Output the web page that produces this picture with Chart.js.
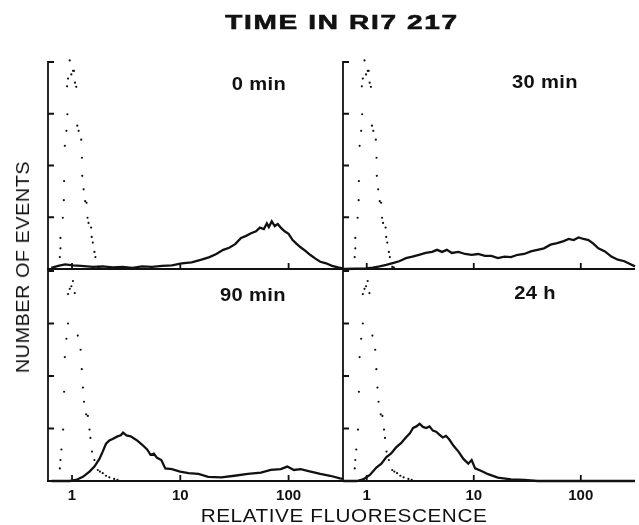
<!DOCTYPE html>
<html><head><meta charset="utf-8">
<script src="https://cdn.jsdelivr.net/npm/chart.js@4.4.1/dist/chart.umd.min.js"></script>
<style>
html,body{margin:0;padding:0;background:#fff;}
#wrap{position:relative;width:639px;height:525px;overflow:hidden;background:#fff;}
canvas{position:absolute;left:0;top:0;}
.t{position:absolute;white-space:nowrap;font-family:'Liberation Sans',Arial,sans-serif;color:#111;transform-origin:50% 50%;}
#title{left:342px;top:22px;font-size:20px;line-height:20px;font-weight:bold;letter-spacing:1.2px;transform:translate(-50%,-50%) scaleX(1.4);-webkit-text-stroke:0.6px #111;}
#xlab{left:344px;top:516px;font-size:18px;line-height:18px;letter-spacing:0.5px;transform:translate(-50%,-50%) scaleX(1.15);}
#ylab{left:23px;top:267px;font-size:18px;line-height:18px;letter-spacing:0.5px;transform:translate(-50%,-50%) rotate(-90deg) scaleX(1.1);}
.pl{font-size:18px;line-height:18px;font-weight:bold;letter-spacing:0.3px;transform:translate(-50%,-50%) scaleX(1.12);}
</style></head><body>
<div id="wrap">
<canvas id="c0" width="639" height="525"></canvas>
<canvas id="c1" width="639" height="525"></canvas>
<canvas id="c2" width="639" height="525"></canvas>
<canvas id="c3" width="639" height="525"></canvas>
<div class="t" id="title">TIME IN RI7 217</div>
<div class="t" id="ylab">NUMBER OF EVENTS</div>
<div class="t" id="xlab">RELATIVE FLUORESCENCE</div>
<div class="t pl" id="pl0" style="left:259px;top:84px;">0 min</div>
<div class="t pl" id="pl1" style="left:545px;top:82px;">30 min</div>
<div class="t pl" id="pl2" style="left:253px;top:295px;">90 min</div>
<div class="t pl" id="pl3" style="left:535px;top:293px;">24 h</div>
</div>
<script>
// ---- data ----
const xTickValues = [1, 10, 100];
const yTickValues = [100, 200, 300, 400];
const panelLabels = ['0 min', '30 min', '90 min', '24 h'];

// unstained control (dotted), upper panels
const ctrlTopX = [0.772,0.782,0.782,0.822,0.840,0.845,0.858,0.887,0.906,0.90,0.919,0.985,0.953,1.021,1.043,1.065,1.094,1.118,1.151,1.216,1.234,1.242,1.279,1.322,1.362,1.39,1.42,1.50,1.52,1.555,1.61,1.645,1.73,1.79];
const ctrlTopY = [23,40,60,99,133,170,238,267,299,353,368,376,403,383,383,360,352,277,267,250,215,180,154,131,128,99,89,80,62,51,33,23,4,3];
// unstained control (dotted), lower panels
const ctrlBotX = [1.02,0.986,0.953,1.06,0.919,0.919,0.887,1.13,1.20,0.858,1.23,0.845,1.26,1.29,1.35,0.828,1.40,1.45,1.48,0.798,1.53,0.782,1.61,0.772,1.73,1.81,1.92,2.06,2.21,2.45,2.63];
const ctrlBotY = [381,371,366,358,356,300,271,277,250,236,213,170,178,151,127,98,124,98,82,60,56,40,40,24,21,18,15,10,7,4,2];

// 0 min
const min0X = [0.643,0.745,0.863,1.02,1.21,1.56,1.92,2.37,2.92,3.61,4.45,5.49,6.78,8.36,10.3,12.7,15.7,18.6,21.5,24.9,28.3,32.1,36.4,40.5,45.0,50.0,54.3,59.1,63.0,65.7,69.9,74.5,79.4,84.6,91.9,100,109,118,129,143,159,177,196,222,252,286,318];
const min0Y = [2,6,9,7,6,4,5,3,4,2,5,4,6,7,11,13,18,23,29,37,41,48,60,64,69,73,80,77,88,81,92,83,87,80,73,68,56,49,42,35,27,20,14,11,6,3,1];
// 30 min
const min30X = [0.61,0.99,1.14,1.32,1.52,1.75,2.01,2.16,2.32,2.67,3.08,3.55,4.08,4.54,5.05,5.61,6.24,7.20,8.29,9.55,11.0,12.7,14.6,16.8,19.4,22.3,25.7,29.6,34.1,39.3,45.3,52.1,60.1,69.2,77.1,85.7,95.3,106,118,131,146,168,193,222,256,285,321];
const min30Y = [0,1,2.5,5,8,11.5,15,18,21,24,27.5,31,33,37,33,37,31,33,29,27.5,29,25.5,25.5,21,24,23,27.5,29,34,37,40,47,50,54,58,56,61,58,56,49,40,34,24,18,15,10,5];
// 90 min
const min90X = [0.647,0.953,1.09,1.26,1.45,1.61,1.79,1.92,2.06,2.21,2.37,2.63,2.82,2.96,3.18,3.48,3.74,4.01,4.45,4.94,5.30,5.69,6.10,6.68,7.27,8.36,9.96,11.9,14.7,18.1,23.9,31.7,42.0,55.5,68.5,84.6,97.3,112,129,153,196,242,298,318];
const min90Y = [0,0,2,8,18,27.5,42,56,71,77,80,85,87,92,87,85,81,77,69,60,50,52,44,40,24,22.5,18,15,13.5,8,7,10,13.5,16,21,22.5,27.5,21,22.5,19,13.5,10,5,4];
// 24 h
const h24X = [0.605,0.804,0.925,1.07,1.23,1.37,1.52,1.69,1.88,2.09,2.32,2.53,2.71,2.91,3.12,3.35,3.60,3.86,4.15,4.45,4.77,5.13,5.50,5.91,6.47,7.20,8.00,8.89,9.55,10.3,11.8,13.6,16.8,22.3,29.6,39.3,321];
const h24Y = [0,0,3,11.5,25.6,33,45,52.5,64,72,83,91,101,104,109,103,101,104,96,94,88.5,83,86,79,67,56,42,33,40,24,19,13,6.4,3.2,2,0,0];

// ---- layout ----
const W = 639, H = 525, XH = 44;
const panels = [
  {id:'c0', box:[48, 62, 343, 269],  xr:[0.643, 318], showX:false, sx:min0X,  sy:min0Y,  cx:ctrlTopX, cy:ctrlTopY},
  {id:'c1', box:[343, 62, 639, 269], xr:[0.601, 321], showX:false, sx:min30X, sy:min30Y, cx:ctrlTopX, cy:ctrlTopY},
  {id:'c2', box:[48, 271, 343, 481], xr:[0.643, 318], showX:true,  sx:min90X, sy:min90Y, cx:ctrlBotX, cy:ctrlBotY},
  {id:'c3', box:[343, 271, 639, 481],xr:[0.601, 321], showX:true,  sx:h24X,   sy:h24Y,   cx:ctrlBotX, cy:ctrlBotY}
];

function pts(xs, ys){ return xs.map((x, i) => ({x: x, y: ys[i]})); }

const axesPlugin = {
  id: 'panelAxes',
  afterDraw(chart){
    const ctx = chart.ctx, a = chart.chartArea, xs = chart.scales.x, ys = chart.scales.y;
    ctx.save();
    ctx.strokeStyle = '#111';
    ctx.lineWidth = 1.8;
    ctx.beginPath();
    ctx.moveTo(a.left, a.top - 1); ctx.lineTo(a.left, a.bottom + 1);
    ctx.moveTo(a.left - 1, a.bottom); ctx.lineTo(a.right, a.bottom);
    yTickValues.forEach(v => { const py = ys.getPixelForValue(v); ctx.moveTo(a.left, py); ctx.lineTo(a.left + 6, py); });
    xTickValues.forEach(v => { const px = xs.getPixelForValue(v); ctx.moveTo(px, a.bottom); ctx.lineTo(px, a.bottom - 6); });
    ctx.stroke();
    ctx.restore();
  }
};

panels.forEach(p => {
  const [l, t, r, b] = p.box;
  new Chart(document.getElementById(p.id), {
    type: 'scatter',
    data: { datasets: [
      { data: pts(p.cx, p.cy), showLine: false, pointRadius: 1.1, pointBackgroundColor: '#111', pointBorderWidth: 0, clip: false },
      { data: pts(p.sx, p.sy), showLine: true, borderColor: '#111', borderWidth: 2.3, pointRadius: 0, tension: 0, clip: false }
    ]},
    options: {
      responsive: false, animation: false, devicePixelRatio: 1, events: [],
      layout: { padding: { left: l, top: t, right: W - r, bottom: p.showX ? H - b - XH : H - b } },
      plugins: { legend: { display: false }, tooltip: { enabled: false } },
      scales: {
        x: {
          type: 'logarithmic', min: p.xr[0], max: p.xr[1], display: p.showX,
          grid: { display: false, drawTicks: false }, border: { display: false },
          afterBuildTicks: s => { s.ticks = xTickValues.map(v => ({ value: v })); },
          afterFit: s => { s.height = p.showX ? XH : 0; },
          ticks: { autoSkip: false, maxRotation: 0, padding: 6, color: '#111',
                   font: { family: 'Liberation Sans', size: 15, weight: 'bold' },
                   callback: v => String(v) }
        },
        y: { min: 0, max: 400, display: false }
      }
    },
    plugins: [axesPlugin]
  });
});
</script>
</body></html>
